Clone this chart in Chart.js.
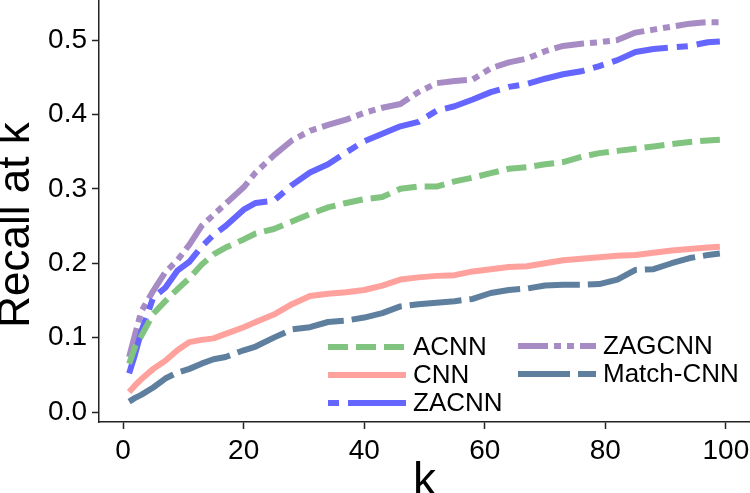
<!DOCTYPE html>
<html>
<head>
<meta charset="utf-8">
<script src="https://cdn.jsdelivr.net/npm/chart.js@4/dist/chart.umd.min.js"></script>
<style>
  html, body { margin: 0; padding: 0; background: #fff; }
  #wrap { width: 750px; height: 493px; }
</style>
</head>
<body>
<div id="wrap"><canvas id="recallChart" width="750" height="493"></canvas></div>
<script>
// k values the curves were read at
const ks = [1, 2, 3, 5, 7, 9, 11, 13, 15, 17, 20, 22, 25, 28, 31, 34, 37, 40, 43, 46,
            49, 52, 55, 58, 61, 64, 67, 70, 73, 76, 79, 82, 85, 88, 91, 94, 97, 99];

const acnn = [0.065, 0.088, 0.102, 0.132, 0.149, 0.165, 0.180, 0.198, 0.212, 0.221,
              0.232, 0.240, 0.246, 0.256, 0.266, 0.275, 0.281, 0.286, 0.289, 0.300,
              0.303, 0.303, 0.310, 0.315, 0.321, 0.327, 0.329, 0.333, 0.336, 0.343,
              0.348, 0.351, 0.354, 0.357, 0.360, 0.363, 0.365, 0.366];
const cnn = [0.027, 0.036, 0.044, 0.058, 0.069, 0.083, 0.094, 0.097, 0.099, 0.105,
             0.114, 0.121, 0.131, 0.145, 0.156, 0.159, 0.161, 0.164, 0.170, 0.178,
             0.181, 0.183, 0.184, 0.189, 0.192, 0.195, 0.196, 0.200, 0.204, 0.206,
             0.208, 0.210, 0.211, 0.214, 0.217, 0.219, 0.221, 0.222];
const zacnn = [0.052, 0.078, 0.108, 0.154, 0.167, 0.190, 0.202, 0.222, 0.238, 0.250,
               0.272, 0.281, 0.284, 0.305, 0.322, 0.333, 0.349, 0.364, 0.374, 0.384,
               0.390, 0.405, 0.411, 0.420, 0.430, 0.437, 0.441, 0.448, 0.454, 0.458,
               0.465, 0.473, 0.484, 0.488, 0.490, 0.492, 0.497, 0.498];
const zagcnn = [0.074, 0.105, 0.135, 0.163, 0.188, 0.204, 0.225, 0.250, 0.265, 0.280,
                0.302, 0.322, 0.345, 0.365, 0.378, 0.386, 0.393, 0.402, 0.409, 0.414,
                0.430, 0.442, 0.445, 0.447, 0.462, 0.470, 0.475, 0.485, 0.492, 0.495,
                0.497, 0.500, 0.510, 0.514, 0.518, 0.522, 0.524, 0.524];
const matchCnn = [0.014, 0.019, 0.023, 0.033, 0.045, 0.053, 0.058, 0.065, 0.071, 0.074,
                  0.083, 0.088, 0.100, 0.111, 0.114, 0.121, 0.123, 0.127, 0.133, 0.142,
                  0.145, 0.147, 0.149, 0.152, 0.160, 0.164, 0.166, 0.170, 0.171, 0.171,
                  0.172, 0.178, 0.191, 0.192, 0.200, 0.207, 0.211, 0.213];

const xTicks = [0, 20, 40, 60, 80, 100];
const yTicks = [0.0, 0.1, 0.2, 0.3, 0.4, 0.5];

const AXIS = '#222';
const FONT = 'Liberation Sans, Arial, sans-serif';

function series(label, values, color, dash) {
    return {
        label: label,
        data: ks.map((k, i) => ({ x: k, y: values[i] })),
        borderColor: color,
        backgroundColor: color,
        borderWidth: 6,
        borderDash: dash,
        borderCapStyle: 'butt',
        borderJoinStyle: 'round',
        pointRadius: 0,
        tension: 0,
        fill: false
    };
}

// legend drawn inside the plot, two columns like the original
const insideLegend = {
    id: 'insideLegend',
    afterDatasetsDraw(chart) {
        const ctx = chart.ctx;
        const a = chart.chartArea;
        const ds = chart.data.datasets;
        const slots = [
            { i: 0, x: a.left + 229, y: 347 },
            { i: 1, x: a.left + 229, y: 375 },
            { i: 2, x: a.left + 229, y: 403 },
            { i: 3, x: a.left + 419, y: 346 },
            { i: 4, x: a.left + 419, y: 374 }
        ];
        ctx.save();
        slots.forEach(s => {
            const d = ds[s.i];
            ctx.beginPath();
            ctx.strokeStyle = d.borderColor;
            ctx.lineWidth = d.borderWidth;
            ctx.lineCap = 'butt';
            ctx.setLineDash(d.borderDash || []);
            ctx.lineDashOffset = d.legendDashOffset || 0;
            ctx.moveTo(s.x, s.y);
            ctx.lineTo(s.x + 78, s.y);
            ctx.stroke();
            ctx.setLineDash([]);
            ctx.fillStyle = '#000';
            ctx.font = '26px ' + FONT;
            ctx.textBaseline = 'middle';
            ctx.textAlign = 'left';
            ctx.fillText(d.label, s.x + 85, s.y + 1);
        });
        // y axis title
        ctx.translate(17, 225);
        ctx.rotate(-Math.PI / 2);
        ctx.font = '44px ' + FONT;
        ctx.textAlign = 'center';
        ctx.textBaseline = 'middle';
        ctx.fillText('Recall at k', 0, 0);
        ctx.restore();
    }
};

const zaDash = series('ZACNN', zacnn, '#6565ff', [58, 9, 11, 9]);
zaDash.legendDashOffset = 67;

new Chart(document.getElementById('recallChart').getContext('2d'), {
    type: 'line',
    data: {
        datasets: [
            series('ACNN', acnn, '#80c480', [20, 8]),
            series('CNN', cnn, '#ffa19c', []),
            zaDash,
            series('ZAGCNN', zagcnn, '#a68bc5', [30, 6, 7, 6, 7, 6]),
            series('Match-CNN', matchCnn, '#5f7f9f', [52, 8])
        ]
    },
    options: {
        responsive: false,
        animation: false,
        devicePixelRatio: 1,
        layout: { padding: 0 },
        plugins: {
            legend: { display: false },
            tooltip: { enabled: false }
        },
        scales: {
            x: {
                type: 'linear',
                min: -4,
                max: 104,
                afterBuildTicks: s => { s.ticks = xTicks.map(v => ({ value: v })); },
                afterFit: s => { s.height = 71; s.paddingLeft = 0; s.paddingRight = 0; },
                grid: { drawOnChartArea: false, drawTicks: true, tickLength: 7, tickWidth: 1.5, tickColor: AXIS },
                border: { display: true, color: AXIS, width: 1.5 },
                ticks: { color: '#000', padding: 5, maxRotation: 0, font: { family: FONT, size: 28 } },
                title: { display: true, text: 'k', color: '#000', padding: 0,
                         font: { family: FONT, size: 46, lineHeight: 0.45 } }
            },
            y: {
                type: 'linear',
                min: -0.0134,
                max: 0.5538,
                afterBuildTicks: s => { s.ticks = yTicks.map(v => ({ value: v })); },
                afterFit: s => { s.width = 99; s.paddingTop = 0; s.paddingBottom = 0; },
                grid: { drawOnChartArea: false, drawTicks: true, tickLength: 7, tickWidth: 1.5, tickColor: AXIS },
                border: { display: true, color: AXIS, width: 1.5 },
                ticks: { color: '#000', padding: 5, font: { family: FONT, size: 28 },
                         callback: v => v.toFixed(1) }
            }
        }
    },
    plugins: [insideLegend]
});
</script>
</body>
</html>
